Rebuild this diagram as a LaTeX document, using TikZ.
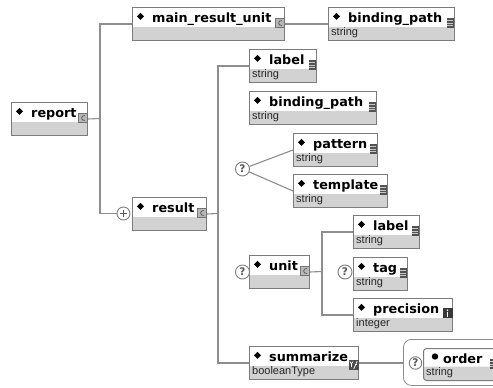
\documentclass[tikz,border=0pt]{standalone}
\usepackage{fontspec}
\setmainfont{DejaVu Sans}
\newfontfamily\subfont{Liberation Sans}

\definecolor{boxline}{HTML}{7C7C7C}
\definecolor{band}{HTML}{D2D2D2}
\definecolor{wirecol}{HTML}{8E8E8E}

\tikzset{
  elembox/.style={rectangle, draw=boxline, line width=1pt, fill=white,
    minimum height=33pt, inner sep=0pt, anchor=north west,
    path picture={\fill[band] ([yshift=14pt]path picture bounding box.south west)
      rectangle (path picture bounding box.south east);}},
  ttl/.style={font=\fontsize{12.8}{14}\selectfont\bfseries, anchor=base west, inner sep=0pt},
  subttl/.style={font=\subfont\fontsize{11}{12}\selectfont, text=black!85, anchor=base west, inner sep=0pt},
  wire/.style={draw=wirecol, line width=1.1pt},
  qmark/.style={circle, draw=black!50, fill=white, line width=0.9pt, minimum size=14pt,
    inner sep=0pt, font=\fontsize{10.5}{10}\selectfont\bfseries, text=black!65},
}

% element box: name, left, top, width, title, type name
\newcommand\elem[6]{%
  \node[elembox, minimum width=#4pt] (#1) at (#2,#3) {};
  \begin{scope}[shift={(#1.north west)}]
    \fill (8.5,5.8) -- (12,9.3) -- (8.5,12.8) -- (5,9.3) -- cycle;
  \end{scope}
  \node[ttl] (#1-t) at ([xshift=20pt,yshift=-15pt]#1.north west) {#5};
  \if\relax\detokenize{#6}\relax\else
    \node[subttl] (#1-s) at ([xshift=3pt,yshift=5.5pt]#1.south west) {#6};
  \fi
}

% complex-type badge
\newcommand\cxicon[1]{%
  \begin{scope}[shift={(#1.north east)}]
    \draw[draw=black!55, fill=black!28, line width=0.5pt] (-9.5,11.5) rectangle (-0.5,20.5);
    \draw[black!75, line width=0.6pt] (-3.2,13.6) .. controls (-7.4,12.6) and (-7.4,19.4) .. (-3.2,18.4);
  \end{scope}}

% simple string-type badge
\newcommand\sticon[1]{%
  \begin{scope}[shift={(#1.north east)}]
    \fill[black!68] (-8.5,11) rectangle (-0.8,21);
    \foreach \k in {13.5,16,18.5}
      \draw[black!22, line width=0.7pt] (-7.6,\k) -- (-1.7,\k);
  \end{scope}}

% integer badge
\newcommand\inticon[1]{%
  \begin{scope}[shift={(#1.north east)}]
    \fill[black!78] (-10.5,10) rectangle (-0.5,20);
    \fill[white] (-6.3,14.2) rectangle (-4.7,18.6);
    \fill[white] (-5.5,12.3) circle (0.9pt);
  \end{scope}}

% boolean badge
\newcommand\boolicon[1]{%
  \begin{scope}[shift={(#1.north east)}]
    \fill[black!70] (-10.5,14) rectangle (-0.5,24);
    \draw[white, line width=0.7pt] (-9.2,15.5) -- (-7.6,18) -- (-6,15.5) (-7.6,18) -- (-7.6,21);
    \draw[white, line width=0.7pt] (-5.2,22.8) -- (-1.8,15.2);
    \draw[white, line width=0.7pt] (-4.2,18.5) -- (-2.2,18.5);
  \end{scope}}

\begin{document}
\begin{tikzpicture}[x=1pt, y=-1pt]
  \useasboundingbox (0,0) rectangle (493,388);
  \fill[white] (0,0) rectangle (493,388);

  % buses
  \coordinate (busa) at (100,118.5);
  \coordinate (busb) at (218,213.5);
  \coordinate (busc) at (322,271.5);

  % elements
  \elem{report}{11}{102}{76}{report}{}
  \cxicon{report}
  \elem{mru}{132}{7}{152}{main\_result\_unit}{}
  \cxicon{mru}
  \elem{bpa}{328}{7}{126}{binding\_path}{string}
  \sticon{bpa}
  \elem{result}{132}{197}{74}{result}{}
  \cxicon{result}
  \elem{laba}{249}{49}{67}{label}{string}
  \sticon{laba}
  \elem{bpb}{249}{91}{127}{binding\_path}{string}
  \sticon{bpb}
  \elem{pattern}{293}{133}{84}{pattern}{string}
  \sticon{pattern}
  \elem{template}{293}{174}{94}{template}{string}
  \sticon{template}
  \elem{unit}{249}{255}{60}{unit}{}
  \cxicon{unit}
  \elem{labb}{353}{215}{66}{label}{string}
  \sticon{labb}
  \elem{tag}{353}{257}{54}{tag}{string}
  \sticon{tag}
  \elem{prec}{353}{298}{99}{precision}{integer}
  \inticon{prec}
  \elem{summ}{249}{346}{109}{summarize}{booleanType}
  \boolicon{summ}

  % attribute group with order
  \node[rectangle, draw=black!45, line width=0.8pt, rounded corners=8pt, fill=white,
        minimum width=120pt, minimum height=46pt, anchor=north west, inner sep=0pt]
        (attrs) at (403,339) {};
  \node[elembox, minimum width=74pt, minimum height=32pt, rounded corners=3pt] (order) at (423,348) {};
  \fill ([xshift=12pt,yshift=-8.5pt]order.north west) circle (3.2pt);
  \node[ttl] (order-t) at ([xshift=20pt,yshift=-15pt]order.north west) {order};
  \node[subttl] (order-s) at ([xshift=3pt,yshift=5.5pt]order.south west) {string};
  \sticon{order}

  % compositor marks
  \node[qmark] (qa) at (242.5,169) {?};
  \node[qmark] (qb) at (242.5,272) {?};
  \node[qmark] (qc) at (345,272) {?};
  \node[qmark, minimum size=12.5pt] (qd) at (415.5,363) {?};
  \node[circle, draw=black!50, fill=white, line width=0.9pt, minimum size=13pt, inner sep=0pt] (plus) at (123.5,213.5) {};
  \draw[black!65, line width=1pt] ([xshift=-3.6pt]plus.center) -- ([xshift=3.6pt]plus.center)
        ([yshift=-3.6pt]plus.center) -- ([yshift=3.6pt]plus.center);

  % connectors
  \draw[wire] (report.east) -- (busa);
  \draw[wire] (mru.west) -- (mru.west -| busa) -- (busa |- plus) -- (plus);
  \draw[wire] (mru.east) -- (bpa.west);
  \draw[wire] (result.east) -- (busb);
  \draw[wire] (laba.west) -- (laba.west -| busb) -- (busb |- summ.west) -- (summ.west);
  \draw[wire] (qa) -- (pattern.west);
  \draw[wire] (qa) -- (template.west);
  \draw[wire] (unit.east) -- (busc);
  \draw[wire] (labb.west) -- (labb.west -| busc) -- (busc |- prec.west) -- (prec.west);
  \draw[wire] (summ.east) -- (summ.east -| attrs.west);
\end{tikzpicture}
\end{document}
